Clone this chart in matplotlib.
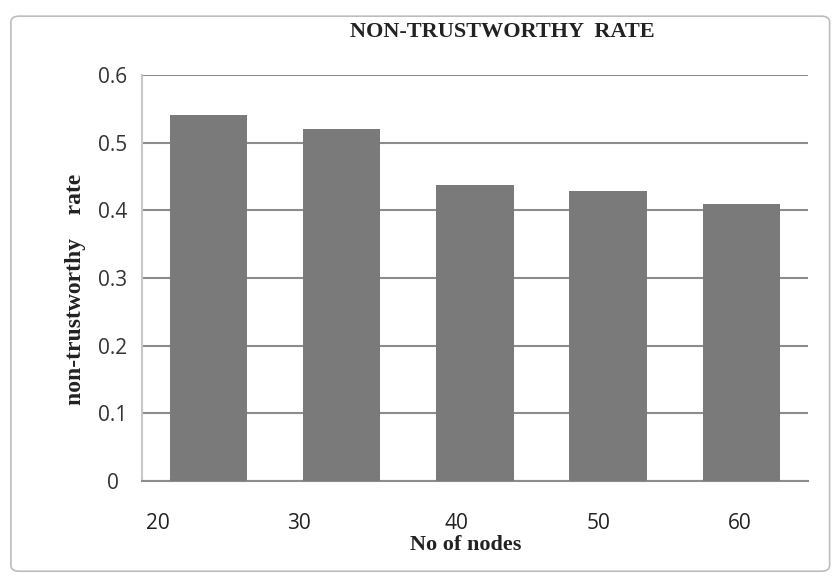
import matplotlib.pyplot as plt
from matplotlib.patches import FancyBboxPatch

# Data
nodes = ['20', '30', '40', '50', '60']
rate = [0.541, 0.520, 0.437, 0.429, 0.409]
# tick labels sit a little off the bar centres in the original
label_pos = [-0.38, 0.68, 1.86, 2.93, 3.99]

fig = plt.figure(figsize=(8.38, 5.77), dpi=100)

# outer chart frame
frame = FancyBboxPatch((0.013, 0.01), 0.977, 0.962, boxstyle='round,pad=0,rounding_size=0.01',
                       transform=fig.transFigure, fill=False, edgecolor='#bdbdbd', linewidth=1.2)
fig.patches.append(frame)

ax = fig.add_axes([0.1695, 0.1664, 0.7945, 0.7036])
x = range(len(nodes))
ax.bar(x, rate, width=0.58, color='#7a7a7a', zorder=3)

ax.set_xlim(-0.5, len(nodes) - 0.5)
ax.set_ylim(0, 0.6)
ax.set_yticks([0, 0.1, 0.2, 0.3, 0.4, 0.5, 0.6])
ax.set_yticklabels(['0', '0.1', '0.2', '0.3', '0.4', '0.5', '0.6'])
ax.set_xticks(label_pos)
ax.set_xticklabels(nodes)
ax.grid(axis='y', color='#8c8c8c', linewidth=1.5, zorder=0)

for s in ['top', 'right']:
    ax.spines[s].set_visible(False)
ax.spines['left'].set_color('#c8c8c8')
ax.spines['left'].set_linewidth(1.5)
ax.spines['bottom'].set_color('#8c8c8c')
ax.spines['bottom'].set_linewidth(1.5)

ax.tick_params(axis='y', length=0, pad=21, labelsize=15, labelcolor='#333333')
ax.tick_params(axis='x', length=0, pad=23, labelsize=15, labelcolor='#222222')
for t in ax.get_yticklabels() + ax.get_xticklabels():
    t.set_fontfamily('Open Sans')
for t in ax.get_yticklabels():
    t.set_horizontalalignment('center')

fig.text(0.600, 0.944, 'NON-TRUSTWORTHY  RATE', ha='center', va='center',
         fontsize=16, fontweight='bold', family='Liberation Serif', color='#222222')
fig.text(0.556, 0.0555, 'No of nodes', ha='center', va='center',
         fontsize=16, fontweight='bold', family='Liberation Serif', color='#222222')
fig.text(0.09, 0.498, 'non-trustworthy    rate', ha='center', va='center', rotation=90,
         fontsize=17, fontweight='bold', family='Liberation Serif', color='#222222')

plt.savefig('out.png', dpi=100)
